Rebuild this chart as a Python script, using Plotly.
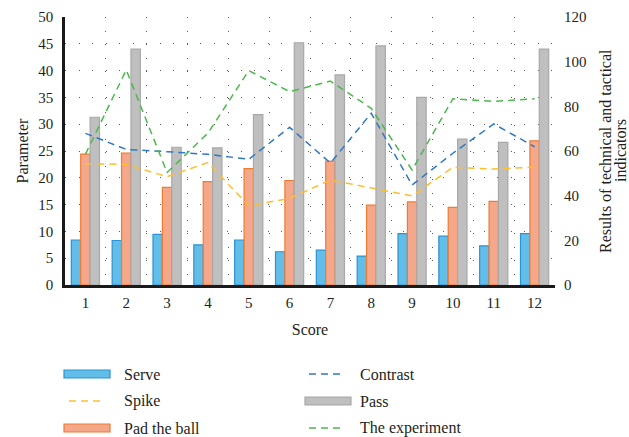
import plotly.graph_objects as go

# Scores (x categories)
scores = list(range(1, 13))

# Bar series (left axis: Parameter)
serve = [8.4, 8.3, 9.45, 7.5, 8.4, 6.2, 6.5, 5.4, 9.6, 9.1, 7.3, 9.6]
pad_the_ball = [24.4, 24.6, 18.2, 19.3, 21.7, 19.5, 23.1, 14.9, 15.5, 14.5, 15.6, 26.9]
pass_ = [31.3, 44.0, 25.7, 25.6, 31.8, 45.2, 39.2, 44.6, 35.0, 27.2, 26.6, 44.0]

# Line series (right axis: technical and tactical indicators)
contrast = [67.9, 60.7, 59.7, 58.5, 56.3, 70.6, 54.6, 76.9, 44.8, 59.0, 72.1, 61.9]
spike = [54.3, 54.0, 48.5, 54.8, 35.5, 38.8, 47.0, 43.3, 39.9, 52.7, 51.9, 52.8]
experiment = [58.5, 96.3, 50.4, 68.0, 96.0, 86.6, 91.3, 79.1, 51.5, 83.4, 82.2, 83.4]

left_ticks = list(range(0, 51, 5))
right_ticks = list(range(0, 121, 20))

FONT = "Liberation Serif"
TXT = "#231f20"

C_SERVE, C_SERVE_EDGE = "#62bde8", "#2b93cf"
C_PAD, C_PAD_EDGE = "#f5a889", "#ee7b33"
C_PASS, C_PASS_EDGE = "#bebfbe", "#a8a8a8"
C_CONTRAST = "#2f78c4"
C_SPIKE = "#fdbf2d"
C_EXP = "#4cb84f"

W, H = 629, 437
ML, MR, MT, MB = 65, 74, 17, 152
PW, PH = W - ML - MR, H - MT - MB

fig = go.Figure()

for name, vals, fill, edge in [
    ("Serve", serve, C_SERVE, C_SERVE_EDGE),
    ("Pad the ball", pad_the_ball, C_PAD, C_PAD_EDGE),
    ("Pass", pass_, C_PASS, C_PASS_EDGE),
]:
    fig.add_trace(go.Bar(
        x=scores, y=vals, name=name, showlegend=False,
        marker=dict(color=fill, line=dict(color=edge, width=1.2)),
        yaxis="y",
    ))

for name, vals, col in [
    ("Contrast", contrast, C_CONTRAST),
    ("Spike", spike, C_SPIKE),
    ("The experiment", experiment, C_EXP),
]:
    fig.add_trace(go.Scatter(
        x=scores, y=vals, name=name, mode="lines", showlegend=False,
        line=dict(color=col, width=1.5, dash="7px,5px"),
        yaxis="y2",
    ))


def px_x(px):
    return (px - ML) / PW


def px_y(py):
    return (H - MB - py) / PH


# Legend drawn as swatches and labels below the plot
legend_items = [
    ("Serve", "bar", C_SERVE, C_SERVE_EDGE, 64, 374, 122),
    ("Spike", "line", C_SPIKE, None, 69, 401, 122),
    ("Pad the ball", "bar", C_PAD, C_PAD_EDGE, 64, 428, 122),
    ("Contrast", "line", C_CONTRAST, None, 309, 374, 358),
    ("Pass", "bar", C_PASS, C_PASS_EDGE, 305, 401, 358),
    ("The experiment", "line", C_EXP, None, 309, 428, 358),
]
shapes = []
annotations = []
for label, kind, col, edge, sx, sy, tx in legend_items:
    if kind == "bar":
        shapes.append(dict(
            type="rect", xref="paper", yref="paper",
            x0=px_x(sx), x1=px_x(sx + 46), y0=px_y(sy - 4), y1=px_y(sy + 4),
            fillcolor=col, line=dict(color=edge, width=1.2), layer="above",
        ))
    else:
        shapes.append(dict(
            type="line", xref="paper", yref="paper",
            x0=px_x(sx), x1=px_x(sx + 36), y0=px_y(sy), y1=px_y(sy),
            line=dict(color=col, width=1.5, dash="7px,5px"),
        ))
    annotations.append(dict(
        text=label, xref="paper", yref="paper", x=px_x(tx), y=px_y(sy),
        xanchor="left", yanchor="middle", showarrow=False,
        font=dict(family=FONT, size=16, color=TXT),
    ))

# Right-hand axis title (two rotated lines in the right margin)
for line_text, cx in [("Results of technical and tactical", 605), ("indicators", 620)]:
    annotations.append(dict(
        text=line_text, xref="paper", yref="paper", x=px_x(cx), y=0.5,
        xanchor="center", yanchor="middle", textangle=-90, showarrow=False,
        font=dict(family=FONT, size=16, color=TXT),
    ))

grid_dash = "1px,12.5px"
grid_col = "#5a5a5a"

fig.update_layout(
    width=W, height=H,
    margin=dict(l=ML, r=MR, t=MT, b=MB, pad=0, autoexpand=False),
    paper_bgcolor="white", plot_bgcolor="white",
    barmode="group", bargap=0.31, bargroupgap=0,
    font=dict(family=FONT, size=15, color=TXT),
    showlegend=False,
    shapes=shapes,
    annotations=annotations,
    xaxis=dict(
        range=[0.5, 12.5], tickvals=scores, ticktext=[str(s) for s in scores],
        showgrid=False, zeroline=False, automargin=False,
        showline=True, linecolor="#1a1a1a", linewidth=2.5,
        ticks="", ticklabelstandoff=2,
        tickfont=dict(family=FONT, size=15, color=TXT),
        title=dict(text="Score", font=dict(family=FONT, size=16, color=TXT), standoff=15),
        minor=dict(tickvals=[k + 0.5 for k in range(1, 13)], showgrid=True,
                   gridcolor=grid_col, griddash=grid_dash, gridwidth=1, ticks=""),
    ),
    yaxis=dict(
        range=[0, 50], tickvals=left_ticks, automargin=False,
        showgrid=True, gridcolor=grid_col, griddash=grid_dash, gridwidth=1,
        zeroline=False, showline=True, linecolor="#1a1a1a", linewidth=2.5,
        ticks="", ticklabelstandoff=6,
        tickfont=dict(family=FONT, size=15, color=TXT),
        title=dict(text="Parameter", font=dict(family=FONT, size=16, color=TXT), standoff=6),
    ),
    yaxis2=dict(
        range=[0, 120], tickvals=right_ticks, overlaying="y", side="right",
        showgrid=False, zeroline=False, showline=False, ticks="", automargin=False,
        ticklabelstandoff=8,
        tickfont=dict(family=FONT, size=15, color=TXT),
    ),
)

fig.write_html("out.html")
